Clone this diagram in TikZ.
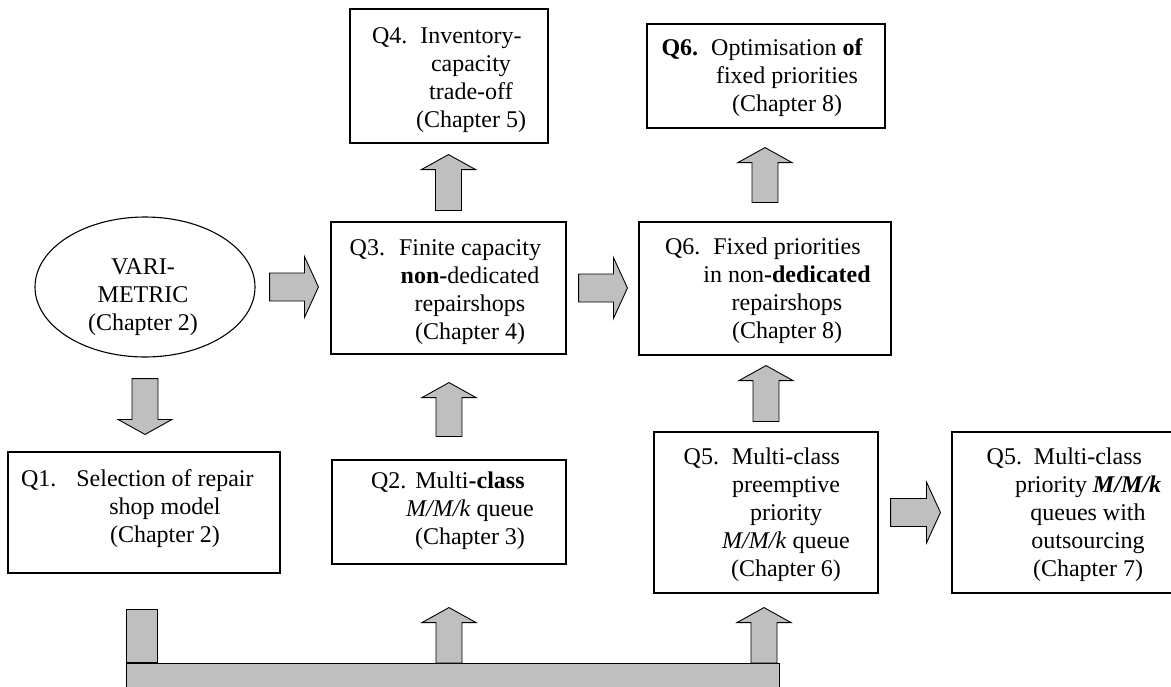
\documentclass[tikz,border=0pt]{standalone}
\usepackage{fontspec}
\setmainfont{Liberation Serif}
\usetikzlibrary{calc,shapes.geometric}

% Block arrows: tail coordinate, tip coordinate
\newcommand\arrowup[2]{\draw[blockarrow] let \p1=(#1), \p2=(#2) in
  (\x1-13pt,\y1) -- (\x1-13pt,\y2-15pt) -- (\x1-27pt,\y2-15pt) -- (\x1,\y2)
  -- (\x1+27pt,\y2-15pt) -- (\x1+13pt,\y2-15pt) -- (\x1+13pt,\y1) -- cycle;}
\newcommand\arrowdown[2]{\draw[blockarrow] let \p1=(#1), \p2=(#2) in
  (\x1-13pt,\y1) -- (\x1-13pt,\y2+15pt) -- (\x1-27pt,\y2+15pt) -- (\x1,\y2)
  -- (\x1+27pt,\y2+15pt) -- (\x1+13pt,\y2+15pt) -- (\x1+13pt,\y1) -- cycle;}
\newcommand\arrowright[2]{\draw[blockarrow] let \p1=(#1), \p2=(#2) in
  (\x1,\y1+14pt) -- (\x2-14pt,\y1+14pt) -- (\x2-14pt,\y1+30.5pt) -- (\x2,\y1)
  -- (\x2-14pt,\y1-30.5pt) -- (\x2-14pt,\y1-14pt) -- (\x1,\y1-14pt) -- cycle;}

\tikzset{
  box/.style={draw, line width=1.1pt, inner sep=0pt, fill=white},
  lbl/.style={font=\fontsize{24}{28}\selectfont, align=center, inner sep=0pt},
  blockarrow/.style={draw, fill=black!25, line width=0.9pt, line join=miter},
  feedbar/.style={draw, fill=black!25, line width=0.9pt, inner sep=0pt},
}

\begin{document}
\begin{tikzpicture}[x=1pt, y=-1pt]
\useasboundingbox (0,0) rectangle (1171,686);

% frames
\node[box, ellipse, minimum width=220pt, minimum height=140pt] (vari) at (145,287) {};
\node[box, minimum width=198pt, minimum height=134pt] (q4)  at (449,76) {};
\node[box, minimum width=238pt, minimum height=104pt] (q6a) at (766,76) {};
\node[box, minimum width=235pt, minimum height=132pt] (q3)  at (448.5,288) {};
\node[box, minimum width=252pt, minimum height=133pt] (q6b) at (765,288.5) {};
\node[box, minimum width=272pt, minimum height=121pt] (q1)  at (144,512.5) {};
\node[box, minimum width=234pt, minimum height=104pt] (q2)  at (449,512) {};
\node[box, minimum width=224pt, minimum height=161pt] (q5a) at (766,512.5) {};
\node[box, minimum width=230pt, minimum height=161pt] (q5b) at (1067,512.5) {};

% texts
\node[lbl] (varit) at (143,297) {VARI-\\METRIC\\(Chapter 2)};
\node[lbl] (q4t)  at (471,80) {\llap{Q4.\hspace{13pt}}Inventory-\\capacity\\trade-off\\(Chapter 5)};
\node[lbl] (q6at) at (787,78) {\llap{\textbf{Q6.}\hspace{13pt}}Optimisation \textbf{of}\\fixed priorities\\(Chapter 8)};
\node[lbl] (q3t)  at (470,292) {\llap{Q3.\hspace{14pt}}Finite capacity\\\textbf{non-}dedicated\\repairshops\\(Chapter 4)};
\node[lbl] (q6bt) at (787,291) {\llap{Q6.\hspace{13pt}}Fixed priorities\\in non\textbf{-dedicated}\\repairshops\\(Chapter 8)};
\node[lbl] (q1t)  at (165,509) {\llap{Q1.\hspace{20pt}}Selection of repair\\shop model\\(Chapter 2)};
\node[lbl] (q2t)  at (470,511) {\llap{Q2.\hspace{9pt}}Multi\textbf{-class}\\\textit{M/M/k} queue\\(Chapter 3)};
\node[lbl] (q5at) at (786,515) {\llap{Q5.\hspace{13pt}}Multi-class\\preemptive\\priority\\\textit{M/M/k} queue\\(Chapter 6)};
\node[lbl] (q5bt) at (1088,515) {\llap{Q5.\hspace{12pt}}Multi-class\\priority \textbf{\textit{M/M/k}}\\queues with\\outsourcing\\(Chapter 7)};

% common feed bar along the bottom
\node[feedbar, minimum width=31pt, minimum height=53pt, anchor=south west] (tab) at (126,663) {};
\node[feedbar, minimum width=653pt, minimum height=60pt, anchor=north west] (feed) at (126,663) {};

% block arrows
\arrowright{[xshift=14pt]vari.east}{[xshift=-12pt]q3.west}
\arrowright{[xshift=12pt]q3.east}{[xshift=-11pt]q6b.west}
\arrowright{[xshift=12pt]q5a.east}{[xshift=-11pt]q5b.west}
\arrowdown{[yshift=-21pt]vari.south}{[yshift=17pt]q1.north}
\arrowup{[yshift=11pt]q3.north}{[yshift=-11pt]q4.south}
\arrowup{[yshift=19pt]q6b.north}{[yshift=-19pt]q6a.south}
\arrowup{[yshift=23pt]q2.north}{[yshift=-28pt]q3.south}
\arrowup{[yshift=10pt]q5a.north}{[yshift=-10pt]q6b.south}
\arrowup{q2.south |- feed.north}{[yshift=-43pt]q2.south}
\arrowup{[xshift=-2pt]q5a.south |- feed.north}{[yshift=-14pt]q5a.south}
\end{tikzpicture}
\end{document}
